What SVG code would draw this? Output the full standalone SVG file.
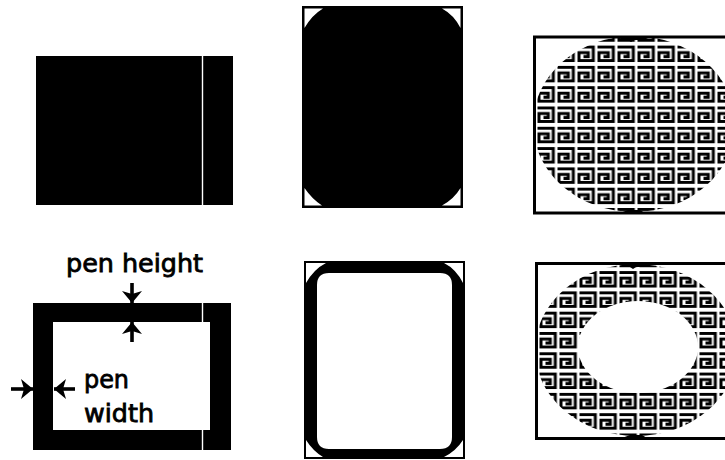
<svg xmlns="http://www.w3.org/2000/svg" width="725" height="460" viewBox="0 0 725 460">
<style>
.k{fill:#000}
.w{fill:#fff}
.f{fill:none;stroke:#000;stroke-width:3}
.gap{stroke:#fff;stroke-width:1.4}
.ar{fill:none;stroke:#000;stroke-width:3.6}
.t{font-family:"DejaVu Sans",sans-serif;font-size:24px;fill:#000;stroke:#000;stroke-width:.8}
.key{fill:none;stroke:#000;stroke-width:3}
</style>
<defs>
<marker id="head" markerUnits="userSpaceOnUse" markerWidth="20" markerHeight="20" refX="12" refY="10" orient="auto"><path d="M0,0 L12,10 L0,20 L3,10Z" fill="#000"/></marker>
<pattern id="keyA" width="20" height="20.3" patternUnits="userSpaceOnUse" patternTransform="translate(557.500,106.500)"><path class="key" d="M0,1.500H15.800V15H1.500V7H10.800V11H6"/></pattern>
<pattern id="keyB" width="20" height="20.3" patternUnits="userSpaceOnUse" patternTransform="translate(559.500,332)"><path class="key" d="M0,1.500H15.800V15H1.500V7H10.800V11H6"/></pattern>
</defs>
<g id="solid-rect"><rect class="k" x="36" y="56" width="197" height="149"/><line class="gap" x1="202.500" y1="56" x2="202.500" y2="205"/></g>
<g id="solid-round">
<rect class="k" x="302" y="6" width="161" height="202"/>
<path class="w" d="M304.500,8.500H323Q312,15 304.500,28ZM460.500,8.500V28Q454,15 442,8.500ZM304.500,188Q312,199 322,205.500H304.500ZM460.500,188V205.500H442Q454,199 460.500,188Z"/>
</g>
<g id="solid-oval">
<ellipse cx="634" cy="124" rx="101" ry="88" fill="url(#keyA)"/>
<rect class="f" x="534.500" y="37" width="200" height="176"/>
<path class="k" d="M618,37H650L644,40H634L631,42L628,40H622ZM620,213L628,210H640L645,213Z"/>
</g>
<g id="frame-rect">
<path class="k" fill-rule="evenodd" d="M33,303H231V450H33ZM53,322V430H210V322Z"/>
<line class="gap" x1="202.500" y1="303" x2="202.500" y2="322"/><line class="gap" x1="202.500" y1="430" x2="202.500" y2="450"/>
<text class="t" x="66" y="272" textLength="137" lengthAdjust="spacingAndGlyphs">pen height</text>
<text class="t" x="84" y="388" textLength="45" lengthAdjust="spacingAndGlyphs">pen</text>
<text class="t" x="84" y="422" textLength="70" lengthAdjust="spacingAndGlyphs">width</text>
</g>
<g id="frame-round">
<path class="k" fill-rule="evenodd" d="M304,261H465V459H304ZM329,273Q317,273 317,285V437Q317,449 329,449H440Q452,449 452,437V285Q452,273 440,273Z"/>
<path class="w" d="M306,263H326Q314,269 306,283ZM463,263V283Q456,269 444,263ZM306,440Q313,451 323,457H306ZM463,440V457H444Q456,451 463,440Z"/>
</g>
<g id="frame-oval">
<ellipse cx="636" cy="350" rx="101" ry="86" fill="url(#keyB)"/>
<ellipse cx="638" cy="347" rx="60" ry="46" fill="#fff"/>
<rect class="f" x="536.500" y="263.500" width="200" height="175"/>
<path class="k" d="M620,264H652L646,267H636L633,269L630,267H624ZM622,438L630,435H642L647,438Z"/>
</g>
<g id="connectors">
<line class="ar" x1="132" y1="283" x2="132" y2="303" marker-end="url(#head)"/>
<line class="ar" x1="132" y1="342" x2="132" y2="322" marker-end="url(#head)"/>
<line class="ar" x1="11" y1="389" x2="33" y2="389" marker-end="url(#head)"/>
<line class="ar" x1="75" y1="389" x2="54" y2="389" marker-end="url(#head)"/>
</g>
</svg>
